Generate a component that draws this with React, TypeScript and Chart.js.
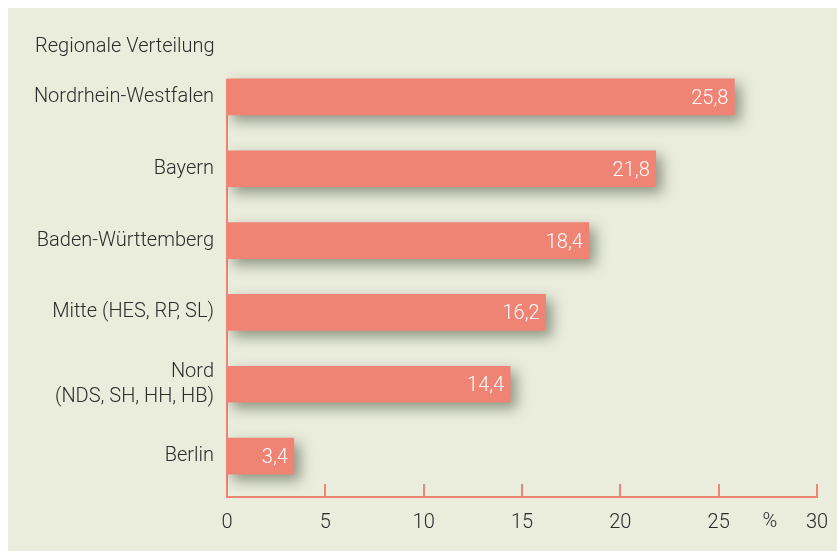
import React, { useEffect, useRef } from "react";
import { Chart, registerables } from "chart.js";

Chart.register(...registerables);

const categories: (string | string[])[] = [
  "Nordrhein-Westfalen",
  "Bayern",
  "Baden-Württemberg",
  "Mitte (HES, RP, SL)",
  ["Nord", "(NDS, SH, HH, HB)"],
  "Berlin",
];
const values = [25.8, 21.8, 18.4, 16.2, 14.4, 3.4];
const xTicks = [0, 5, 10, 15, 20, 25, 30];
const title = "Regionale Verteilung";
const unit = "%";

const BAR = "#f08474";
const BG = "#eaecdc";
const TEXT = "#2b2b2b";
const FONT = "Roboto, 'Liberation Sans', sans-serif";

const fmt = (v: number) => v.toFixed(1).replace(".", ",");

const decoPlugin = {
  id: "deco",
  beforeDatasetsDraw(chart: any) {
    const { ctx, chartArea, scales } = chart;
    const x = scales.x;
    const meta = chart.getDatasetMeta(0);
    const axisY = chartArea.bottom + 5;
    ctx.save();
    ctx.strokeStyle = BAR;
    ctx.lineWidth = 2;
    ctx.beginPath();
    ctx.moveTo(x.getPixelForValue(0) - 1, axisY);
    ctx.lineTo(x.getPixelForValue(30) + 1, axisY);
    const topBar = meta.data[0];
    ctx.moveTo(x.getPixelForValue(0), topBar.y - topBar.height / 2);
    ctx.lineTo(x.getPixelForValue(0), axisY);
    for (const t of xTicks) {
      const px = Math.round(x.getPixelForValue(t));
      ctx.moveTo(px, axisY);
      ctx.lineTo(px, axisY - 13);
    }
    ctx.stroke();
    ctx.restore();
    ctx.save();
    ctx.shadowColor = "rgba(70,80,60,0.55)";
    ctx.shadowBlur = 13;
    ctx.shadowOffsetX = 6;
    ctx.shadowOffsetY = 6;
  },
  afterDatasetsDraw(chart: any) {
    const { ctx, chartArea, scales } = chart;
    ctx.restore();
    const meta = chart.getDatasetMeta(0);
    ctx.save();
    ctx.fillStyle = "#ffffff";
    ctx.font = `300 20px ${FONT}`;
    ctx.textAlign = "right";
    ctx.textBaseline = "middle";
    meta.data.forEach((el: any, i: number) => {
      ctx.fillText(fmt(values[i]), el.x - 6, el.y + 2);
    });
    ctx.fillStyle = TEXT;
    ctx.textAlign = "left";
    ctx.fillText(title, 27, 39);
    ctx.textAlign = "center";
    ctx.fillText(unit, scales.x.getPixelForValue(27.6), chartArea.bottom + 30);
    ctx.restore();
  },
};

export default function App() {
  const ref = useRef<HTMLCanvasElement | null>(null);
  useEffect(() => {
    if (!ref.current) return;
    const chart = new Chart(ref.current, {
      type: "bar",
      data: {
        labels: categories,
        datasets: [
          {
            data: values,
            backgroundColor: BAR,
            borderWidth: 0,
            barThickness: 36,
          },
        ],
      },
      options: {
        indexAxis: "y",
        animation: false,
        responsive: true,
        maintainAspectRatio: false,
        layout: { padding: { top: 53, right: 20, left: 0, bottom: 0 } },
        plugins: { legend: { display: false }, tooltip: { enabled: false } },
        scales: {
          x: {
            min: 0,
            max: 30,
            afterBuildTicks: (s: any) => {
              s.ticks = xTicks.map((v) => ({ value: v }));
            },
            afterFit: (s: any) => {
              s.height = 59;
              s.paddingLeft = 0;
              s.paddingRight = 0;
            },
            grid: { display: false, drawTicks: false },
            border: { display: false },
            ticks: {
              padding: 19,
              color: TEXT,
              font: { size: 20, family: FONT, weight: "300" },
              maxRotation: 0,
            },
          },
          y: {
            afterFit: (s: any) => {
              s.width = 219;
              s.paddingTop = 0;
              s.paddingBottom = 0;
            },
            grid: { display: false, drawTicks: false },
            border: { display: false },
            ticks: {
              padding: 13,
              color: TEXT,
              font: { size: 20, family: FONT, weight: "300", lineHeight: 1.25 },
            },
          },
        },
      },
      plugins: [decoPlugin],
    });
    return () => chart.destroy();
  }, []);
  return (
    <div
      style={{
        position: "absolute",
        left: 8,
        top: 8,
        width: 829,
        height: 543,
        background: BG,
      }}
    >
      <canvas ref={ref} />
    </div>
  );
}
